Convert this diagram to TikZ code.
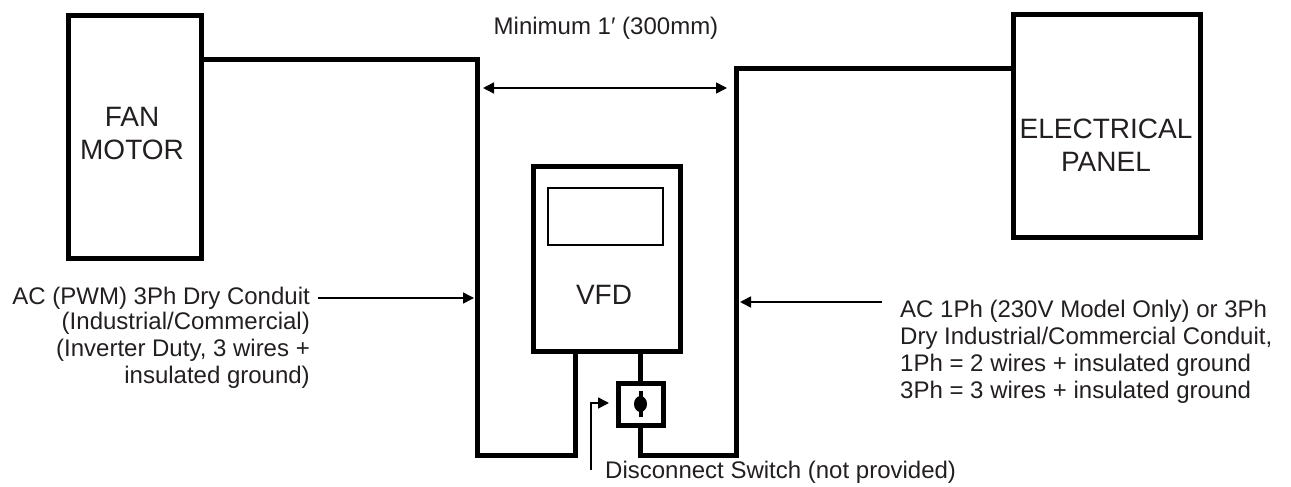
\documentclass[tikz,border=0pt]{standalone}
\usepackage{fontspec}
\setmainfont{Liberation Sans}
\usetikzlibrary{arrows.meta,calc}
\definecolor{ink}{HTML}{231F20}
\tikzset{
  box/.style={draw, line width=5pt, rectangle, inner sep=0pt, minimum width=#1},
  wire/.style={draw, line width=5pt, line join=miter, line cap=rect},
  dim/.style={draw, line width=1.6pt},
  tip/.style={-{Triangle[length=11pt,width=11pt]}},
  small/.style={font=\fontsize{24}{27}\selectfont, inner sep=0pt, text=ink},
  big/.style={font=\fontsize{28}{33}\selectfont, inner sep=0pt, align=center, text=ink},
}
\begin{document}
\begin{tikzpicture}[x=1pt,y=-1pt]
\useasboundingbox (0,0) rectangle (1291,487);
% boxes
\node[box=133pt, minimum height=242pt] (fan) at (134.5,137) {};
\node[box=187pt, minimum height=222pt] (panel) at (1107,126) {};
\node[box=147pt, minimum height=185pt] (vfd) at (606.5,258.5) {};
\node[draw, line width=2.5pt, minimum width=115pt, minimum height=57pt, inner sep=0pt] (display) at (605.5,216.5) {};
\node[box=45pt, minimum height=42pt] (switch) at (640.5,404) {};
% labels in boxes
\node[big] (fantext) at (132,134) {FAN\\MOTOR};
\node[big] (paneltext) at (1106,145) {ELECTRICAL\\PANEL};
\node[big] (vfdtext) at (604,295) {VFD};
% switch symbol
\fill (switch.center) ellipse [x radius=6.5pt, y radius=8pt];
\draw[line width=4pt] ([yshift=13pt]switch.center) -- ([yshift=-13pt]switch.center);
% wire coordinates
\coordinate (ltop) at (477,60);
\coordinate (lbot) at (477,455);
\coordinate (cbot) at (575,455);
\coordinate (rbot) at (736,455);
\coordinate (rtop) at (736,69);
% wires
\draw[wire] (fan.east |- ltop) -- (ltop) -- (lbot) -- (cbot) -- (cbot |- vfd.south);
\draw[wire] (vfd.south -| switch.north) -- (switch.north);
\draw[wire] (switch.south) -- (switch.south |- rbot) -- (rbot) -- (rtop) -- (rtop -| panel.west);
% dimension
\coordinate (dl) at (483,88);
\coordinate (dr) at (727,88);
\draw[dim, {Triangle[length=11pt,width=11pt]}-{Triangle[length=11pt,width=11pt]}] (dl) -- (dr);
\node[small] (title) at (606,28) {Minimum 1′ (300mm)};
% left annotation
\node[small, anchor=east] (l1) at (310,298) {AC (PWM) 3Ph Dry Conduit};
\node[small, anchor=north east, align=right] (l2) at (310,312) {(Industrial/Commercial)\\(Inverter Duty, 3 wires +\\insulated ground)};
\coordinate (ltip) at (474,298);
\draw[dim, tip] ([xshift=8pt]l1.east) -- (ltip);
% right annotation
\coordinate (rstart) at (882,302);
\coordinate (rtip) at (740,302);
\draw[dim, tip] (rstart) -- (rtip);
\node[small, anchor=north west, align=left] (r1) at (900,300) {AC 1Ph (230V Model Only) or 3Ph\\Dry Industrial/Commercial Conduit,\\1Ph = 2 wires + insulated ground\\3Ph = 3 wires + insulated ground};
% disconnect
\node[small, anchor=west] (disc) at (605,472) {Disconnect Switch (not provided)};
\coordinate (dbot) at (591,470);
\coordinate (dcorner) at (591,403);
\coordinate (dtip) at (609,403);
\draw[dim, tip] (dbot) -- (dcorner) -- (dtip);
\end{tikzpicture}
\end{document}
